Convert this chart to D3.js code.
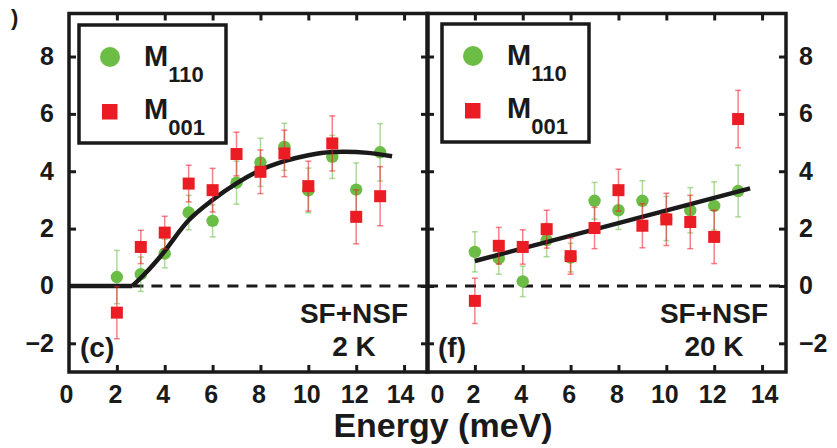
<!DOCTYPE html>
<html>
<head>
<meta charset="utf-8">
<script src="https://cdn.jsdelivr.net/npm/d3@7"></script>
<style>
  body { margin: 0; background: #fff; }
  text { font-family: "Liberation Sans", Arial, sans-serif; font-weight: bold; fill: #1a1a1a; }
  .xlab { font-family: "Liberation Sans Narrow", "Arial Narrow", "Liberation Sans", sans-serif; }
</style>
</head>
<body>
<svg id="chart" width="837" height="448"></svg>
<script>
// energies (meV) where points were measured
var energy = [2, 3, 4, 5, 6, 7, 8, 9, 10, 11, 12, 13];

// panel (c), 2 K
var m110_2K = [0.31, 0.41, 1.13, 2.56, 2.27, 3.6, 4.31, 4.85, 3.33, 4.5, 3.36, 4.66];
var m110_2K_err = [0.93, 0.6, 0.5, 0.6, 0.56, 0.75, 0.84, 0.82, 0.78, 0.75, 0.93, 1.0];
var m001_2K = [-0.93, 1.36, 1.86, 3.57, 3.34, 4.6, 3.98, 4.62, 3.48, 4.97, 2.41, 3.13];
var m001_2K_err = [0.91, 0.58, 0.57, 0.64, 0.76, 0.76, 0.76, 0.81, 0.87, 0.96, 0.94, 1.03];

// panel (f), 20 K
var m110_20K = [1.19, 0.96, 0.16, 1.6, 0.99, 2.97, 2.64, 2.97, 2.35, 2.64, 2.79, 3.31];
var m110_20K_err = [0.7, 0.55, 0.53, 0.58, 0.5, 0.64, 0.67, 0.7, 0.77, 0.79, 0.84, 0.9];
var m001_20K = [-0.52, 1.4, 1.36, 1.98, 1.04, 2.02, 3.34, 2.1, 2.32, 2.23, 1.71, 5.82];
var m001_20K_err = [0.79, 0.64, 0.6, 0.66, 0.63, 0.72, 0.73, 0.77, 0.91, 0.93, 0.93, 1.0];

// fitted curves [energy, value]
var fitFlat2K = [[0, 0], [2.65, 0]];
var fitRise2K = [[2.65, 0], [3.2, 0.45], [3.8, 1.01], [5, 2.29], [6, 3.0], [7, 3.58], [8, 4.04],
                 [9, 4.35], [10, 4.56], [11, 4.67], [11.5, 4.68], [12.5, 4.64], [13.5, 4.52]];
var fit20K = [[2, 0.87], [13.5, 3.4]];

var xTicks = [0, 2, 4, 6, 8, 10, 12, 14];
var yTicks = [-2, 0, 2, 4, 6, 8];

var green = '#6cbd45', red = '#ec1c24', ink = '#1a1a1a';
var svg = d3.select('#chart');

var plotTop = 13.5, plotBottom = 372;
var y = d3.scaleLinear().domain([-3, 9.5]).range([plotBottom, plotTop]);

function drawPanel(p) {
  var x = d3.scaleLinear().domain([0, 15]).range([p.left, p.right]);
  var g = svg.append('g');

  // dashed zero line
  g.append('line')
    .attr('x1', x(p.dashFrom)).attr('x2', x(15))
    .attr('y1', y(0)).attr('y2', y(0))
    .attr('stroke', ink).attr('stroke-width', 3)
    .attr('stroke-dasharray', '11,8');

  var line = d3.line().x(function (d) { return x(d[0]); }).y(function (d) { return y(d[1]); });

  function series(vals, errs, color, shape) {
    var s = g.append('g');
    var bars = s.selectAll('g.eb').data(energy).enter().append('g')
      .attr('stroke', color).attr('stroke-opacity', 0.55).attr('stroke-width', 1.5);
    bars.append('line')
      .attr('x1', function (d) { return x(d); }).attr('x2', function (d) { return x(d); })
      .attr('y1', function (d, i) { return y(vals[i] - errs[i]); })
      .attr('y2', function (d, i) { return y(vals[i] + errs[i]); });
    [-1, 1].forEach(function (sgn) {
      bars.append('line')
        .attr('x1', function (d) { return x(d) - 3; }).attr('x2', function (d) { return x(d) + 3; })
        .attr('y1', function (d, i) { return y(vals[i] + sgn * errs[i]); })
        .attr('y2', function (d, i) { return y(vals[i] + sgn * errs[i]); });
    });
    if (shape === 'circle') {
      s.selectAll('circle').data(energy).enter().append('circle')
        .attr('cx', function (d) { return x(d); })
        .attr('cy', function (d, i) { return y(vals[i]); })
        .attr('r', 6.2).attr('fill', color);
    } else {
      s.selectAll('rect').data(energy).enter().append('rect')
        .attr('x', function (d) { return x(d) - 6; })
        .attr('y', function (d, i) { return y(vals[i]) - 6; })
        .attr('width', 12).attr('height', 12).attr('fill', color);
    }
  }

  series(p.green, p.greenErr, green, 'circle');

  // fits
  p.fits.forEach(function (f) {
    g.append('path').datum(f.data)
      .attr('d', line.curve(f.curve))
      .attr('fill', 'none').attr('stroke', ink).attr('stroke-width', 4.5);
  });

  series(p.red, p.redErr, red, 'square');

  // frame
  g.append('rect')
    .attr('x', p.left).attr('y', plotTop)
    .attr('width', p.right - p.left).attr('height', plotBottom - plotTop)
    .attr('fill', 'none').attr('stroke', ink).attr('stroke-width', 3.5);

  // inward ticks on all four sides
  function ticks(axis, tx, ty) {
    var a = g.append('g').attr('transform', 'translate(' + tx + ',' + ty + ')').call(axis);
    a.select('.domain').remove();
    a.selectAll('line').attr('stroke', ink).attr('stroke-width', 3);
    a.selectAll('text').remove();
  }
  ticks(d3.axisTop(x).tickValues(xTicks.slice(1)).tickSize(7), 0, plotBottom);
  ticks(d3.axisBottom(x).tickValues(xTicks.slice(1)).tickSize(7), 0, plotTop);
  ticks(d3.axisRight(y).tickValues(yTicks).tickSize(7), p.left, 0);
  ticks(d3.axisLeft(y).tickValues(yTicks).tickSize(7), p.right, 0);

  // x tick labels
  var xl = g.append('g').attr('transform', 'translate(0,' + plotBottom + ')')
    .call(d3.axisBottom(x).tickValues(xTicks).tickSize(0));
  xl.select('.domain').remove();
  xl.selectAll('text')
    .attr('class', 'xlab')
    .attr('y', 31).attr('dy', 0)
    .attr('font-size', 25)
    .attr('dx', function (d) { return d === 0 ? p.zeroShift : (d === 14 ? p.lastShift : -2); });

  // legend
  var lg = g.append('g').attr('transform', 'translate(' + p.legX + ',' + p.legY + ')');
  lg.append('rect').attr('width', 147).attr('height', 118)
    .attr('fill', '#fff').attr('stroke', ink).attr('stroke-width', 3.5);
  lg.append('circle').attr('cx', 31).attr('cy', 32).attr('r', 10).attr('fill', green);
  lg.append('rect').attr('x', 23).attr('y', 79).attr('width', 15.5).attr('height', 15.5).attr('fill', red);
  [['110', 41], ['001', 94]].forEach(function (e) {
    var t = lg.append('text').attr('x', 65).attr('y', e[1]).attr('font-size', 29);
    t.append('tspan').text('M');
    t.append('tspan').attr('font-size', 22).attr('dy', 16).text(e[0]);
  });

  // annotations
  g.append('text').attr('x', p.left + 11).attr('y', 357).attr('font-size', 28).text(p.tag);
  g.append('text').attr('x', p.noteX).attr('y', 323).attr('font-size', 28)
    .attr('text-anchor', 'middle').text('SF+NSF');
  g.append('text').attr('x', p.noteX).attr('y', 356).attr('font-size', 28)
    .attr('text-anchor', 'middle').text(p.temp);
}

drawPanel({
  left: 69, right: 428, dashFrom: 2.65, zeroShift: -3, lastShift: -4,
  green: m110_2K, greenErr: m110_2K_err, red: m001_2K, redErr: m001_2K_err,
  fits: [{ data: fitFlat2K, curve: d3.curveLinear }, { data: fitRise2K, curve: d3.curveMonotoneX }],
  legX: 79, legY: 25, tag: '(c)', temp: '2 K', noteX: 354
});

drawPanel({
  left: 427, right: 786, dashFrom: 0, zeroShift: 10, lastShift: 2,
  green: m110_20K, greenErr: m110_20K_err, red: m001_20K, redErr: m001_20K_err,
  fits: [{ data: fit20K, curve: d3.curveLinear }],
  legX: 442, legY: 24, tag: '(f)', temp: '20 K', noteX: 714
});

// y tick labels, left and right
var yFmt = function (d) { return d < 0 ? '\u2212' + Math.abs(d) : d; };
var yl = svg.append('g').attr('transform', 'translate(66,0)')
  .call(d3.axisLeft(y).tickValues(yTicks).tickSize(0).tickPadding(12).tickFormat(yFmt));
yl.select('.domain').remove();
yl.selectAll('text').attr('font-size', 25);

var yr = svg.append('g').attr('transform', 'translate(788,0)')
  .call(d3.axisRight(y).tickValues(yTicks).tickSize(0).tickPadding(11).tickFormat(yFmt));
yr.select('.domain').remove();
yr.selectAll('text').attr('font-size', 25);

// axis title
svg.append('text').attr('x', 443).attr('y', 437)
  .attr('text-anchor', 'middle').attr('font-size', 34)
  .text('Energy (meV)');

// fragment of neighbouring panel label at top-left
svg.append('text').attr('x', 11).attr('y', 25).attr('font-size', 22).text(')');
</script>
</body>
</html>
